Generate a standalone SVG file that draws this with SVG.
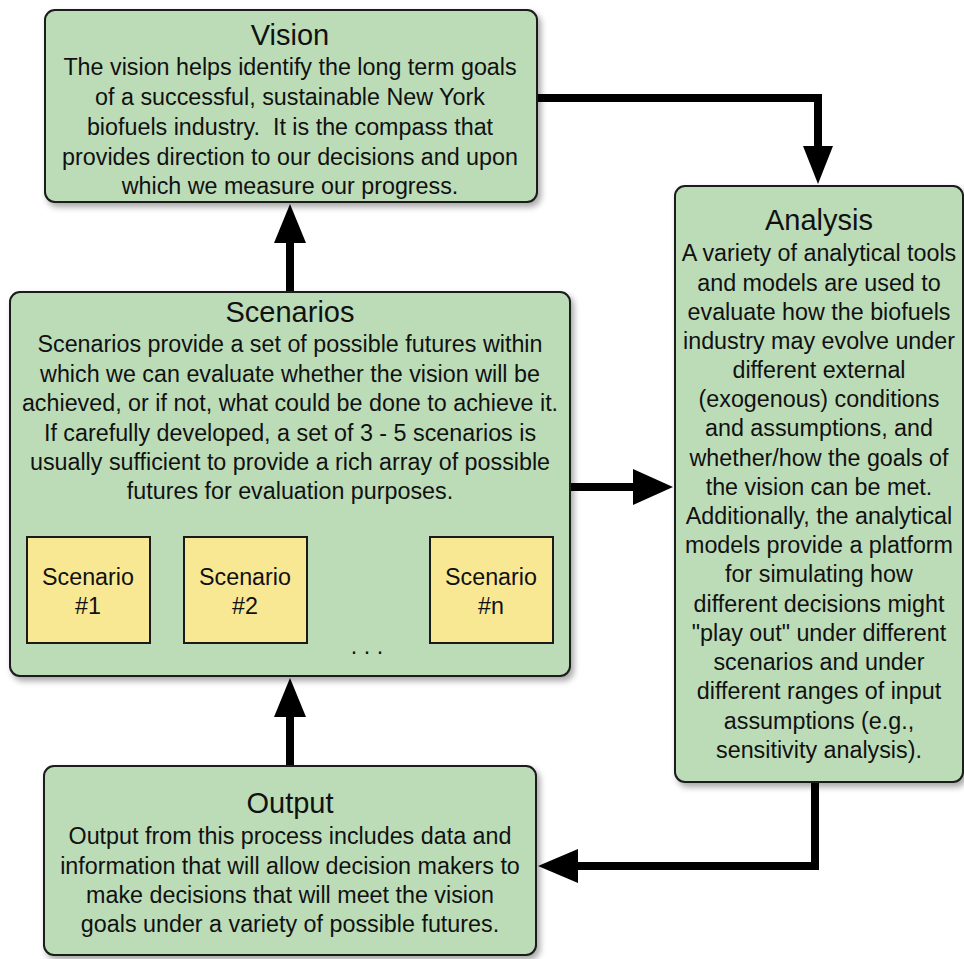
<svg xmlns="http://www.w3.org/2000/svg" width="964" height="959" viewBox="0 0 964 959">
<style>
.box{fill:#bcdcb8;stroke:#1a1a1a;stroke-width:2;filter:url(#sh)}
.sbox{fill:#f8e893;stroke:#1a1a1a;stroke-width:2}
text{font-family:"Liberation Sans",Arial,sans-serif;fill:#111;text-anchor:middle}
.t{font-size:29px}
.b{font-size:23.3px}
.conn{fill:none;stroke:#000;stroke-width:8}
.head{fill:#000}
</style>
<defs>
<filter id="sh" x="-5%" y="-5%" width="115%" height="115%">
<feDropShadow dx="3" dy="4" stdDeviation="3" flood-color="#000" flood-opacity="0.35"/>
</filter>
</defs>
<rect width="964" height="959" fill="#fff"/>
<g id="connectors">
<polyline class="conn" points="537,98 818,98 818,148"/>
<polygon class="head" points="803,146 833,146 818,184"/>
<line class="conn" x1="290" y1="292" x2="290" y2="240"/>
<polygon class="head" points="274,243 306,243 290,204"/>
<line class="conn" x1="570" y1="487" x2="636" y2="487"/>
<polygon class="head" points="633,469 633,505 673,487"/>
<polyline class="conn" points="815,782 815,866 575,866"/>
<polygon class="head" points="578,849 578,883 538,866"/>
<line class="conn" x1="290" y1="766" x2="290" y2="714"/>
<polygon class="head" points="274,717 306,717 290,678"/>
</g>
<g id="vision">
<rect class="box" x="45" y="10" width="492" height="192" rx="10"/>
<text class="t" x="290" y="45">Vision</text>
<text class="b" x="290" y="75">The vision helps identify the long term goals</text>
<text class="b" x="290" y="105">of a successful, sustainable New York</text>
<text class="b" x="290" y="135" xml:space="preserve">biofuels industry.  It is the compass that</text>
<text class="b" x="290" y="165">provides direction to our decisions and upon</text>
<text class="b" x="290" y="194">which we measure our progress.</text>
</g>
<g id="scenarios">
<rect class="box" x="10" y="292" width="560" height="384" rx="10"/>
<text class="t" x="290" y="322">Scenarios</text>
<text class="b" x="290" y="352">Scenarios provide a set of possible futures within</text>
<text class="b" x="290" y="382">which we can evaluate whether the vision will be</text>
<text class="b" x="290" y="411">achieved, or if not, what could be done to achieve it.</text>
<text class="b" x="290" y="441">If carefully developed, a set of 3 - 5 scenarios is</text>
<text class="b" x="290" y="470">usually sufficient to provide a rich array of possible</text>
<text class="b" x="290" y="499">futures for evaluation purposes.</text>
<text class="b" x="367" y="654">. . .</text>
</g>
<g id="scenario1">
<rect class="sbox" x="27" y="537" width="123" height="106"/>
<text class="b" x="88" y="585">Scenario</text>
<text class="b" x="88" y="614">#1</text>
</g>
<g id="scenario2">
<rect class="sbox" x="184" y="537" width="123" height="106"/>
<text class="b" x="245" y="585">Scenario</text>
<text class="b" x="245" y="614">#2</text>
</g>
<g id="scenarion">
<rect class="sbox" x="430" y="537" width="123" height="106"/>
<text class="b" x="491" y="585">Scenario</text>
<text class="b" x="491" y="614">#n</text>
</g>
<g id="analysis">
<rect class="box" x="675" y="186" width="288" height="596" rx="10"/>
<text class="t" x="819" y="230">Analysis</text>
<text class="b" x="819" y="261">A variety of analytical tools</text>
<text class="b" x="819" y="291">and models are used to</text>
<text class="b" x="819" y="320">evaluate how the biofuels</text>
<text class="b" x="819" y="349">industry may evolve under</text>
<text class="b" x="819" y="378">different external</text>
<text class="b" x="819" y="407">(exogenous) conditions</text>
<text class="b" x="819" y="436">and assumptions, and</text>
<text class="b" x="819" y="466">whether/how the goals of</text>
<text class="b" x="819" y="495">the vision can be met.</text>
<text class="b" x="819" y="524">Additionally, the analytical</text>
<text class="b" x="819" y="553">models provide a platform</text>
<text class="b" x="819" y="582">for simulating how</text>
<text class="b" x="819" y="612">different decisions might</text>
<text class="b" x="819" y="641">"play out" under different</text>
<text class="b" x="819" y="670">scenarios and under</text>
<text class="b" x="819" y="699">different ranges of input</text>
<text class="b" x="819" y="729">assumptions (e.g.,</text>
<text class="b" x="819" y="758">sensitivity analysis).</text>
</g>
<g id="output">
<rect class="box" x="44" y="766" width="492" height="189" rx="10"/>
<text class="t" x="290" y="813">Output</text>
<text class="b" x="290" y="844">Output from this process includes data and</text>
<text class="b" x="290" y="874">information that will allow decision makers to</text>
<text class="b" x="290" y="903">make decisions that will meet the vision</text>
<text class="b" x="290" y="932">goals under a variety of possible futures.</text>
</g>
</svg>
